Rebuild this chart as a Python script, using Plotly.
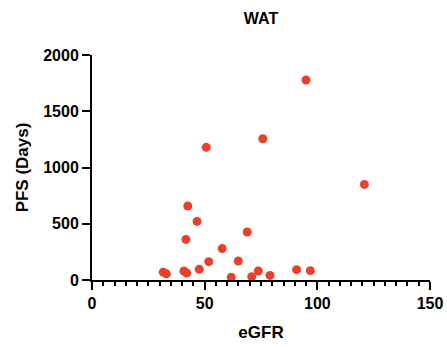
import plotly.graph_objects as go

egfr = [31.6, 33.0, 40.8, 42.0, 42.5, 41.7, 46.6, 50.7, 47.6, 51.8, 57.8, 61.8,
        64.9, 68.9, 70.9, 73.8, 95.0, 75.8, 120.9, 79.0, 90.8, 96.9]
pfs = [70, 55, 80, 62, 658, 361, 521, 1179, 95, 163, 279, 24,
       169, 427, 30, 80, 1778, 1256, 850, 41, 92, 83]

x_ticks = [0, 50, 100, 150]
y_ticks = [0, 500, 1000, 1500, 2000]

font_family = "Liberation Sans, Arial, Helvetica, sans-serif"

fig = go.Figure(go.Scatter(
    x=egfr, y=pfs, mode="markers",
    marker=dict(color="#E8402A", size=9, line=dict(width=0)),
    cliponaxis=False, showlegend=False,
))

fig.update_layout(
    width=447, height=347,
    margin=dict(l=92, r=17, t=55, b=67, autoexpand=False),
    paper_bgcolor="white", plot_bgcolor="white",
    title=dict(text="<b>WAT</b>", x=(92 + 430) / 2 / 447, xanchor="center",
               y=1 - 18 / 347, yanchor="middle",
               font=dict(family=font_family, size=16, color="black")),
    font=dict(family=font_family, color="black"),
)

fig.update_xaxes(
    range=[0, 150], tickvals=x_ticks, ticktext=[f"<b>{v}</b>" for v in x_ticks],
    showline=True, linecolor="black", linewidth=2,
    ticks="outside", ticklen=8, tickwidth=2, tickcolor="black",
    minor=dict(dtick=5, ticks="outside", ticklen=4, tickwidth=2, tickcolor="black"),
    showgrid=False, zeroline=False, automargin=False,
    tickfont=dict(size=16, family=font_family, color="black"),
    title=dict(text="<b>eGFR</b>", font=dict(size=17, family=font_family, color="black"), standoff=15),
)
fig.update_yaxes(
    range=[0, 2000], tickvals=y_ticks, ticktext=[f"<b>{v}</b>" for v in y_ticks],
    showline=True, linecolor="black", linewidth=2,
    ticks="outside", ticklen=8, tickwidth=2, tickcolor="black",
    showgrid=False, zeroline=False, automargin=False,
    tickfont=dict(size=16, family=font_family, color="black"),
    title=dict(text="<b>PFS (Days)</b>", font=dict(size=17, family=font_family, color="black"), standoff=10),
)

fig.write_html("out.html")
